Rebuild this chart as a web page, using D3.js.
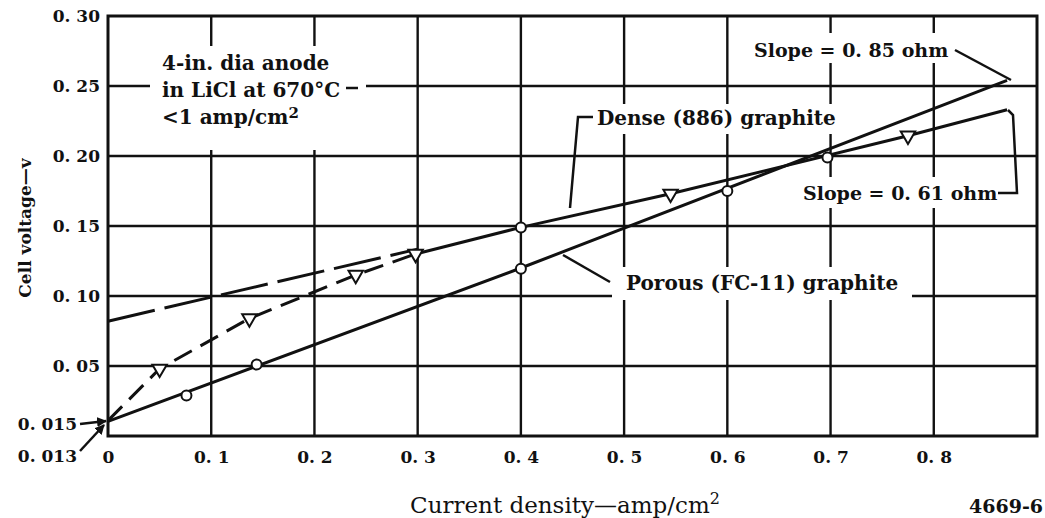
<!DOCTYPE html>
<html>
<head>
<meta charset="utf-8">
<script src="https://cdn.jsdelivr.net/npm/d3@7"></script>
<style>
  body { margin: 0; background: #fff; }
  .tick text { font-family: "DejaVu Serif", serif; font-weight: bold; fill: #111; }
  .note { font-family: "DejaVu Serif", serif; font-weight: bold; font-size: 20px; fill: #111; }
</style>
</head>
<body>
<div id="chart"></div>
<script>
// values
const xTicks = [0, 0.1, 0.2, 0.3, 0.4, 0.5, 0.6, 0.7, 0.8];
const xTickLabels = ['0', '0. 1', '0. 2', '0. 3', '0. 4', '0. 5', '0. 6', '0. 7', '0. 8'];
const yTicks = [0.05, 0.10, 0.15, 0.20, 0.25, 0.30];
const yTickLabels = ['0. 05', '0. 10', '0. 15', '0. 20', '0. 25', '0. 30'];

// porous (FC-11) graphite: fitted line and measured points
const porousLineX = [0, 0.40, 0.871];
const porousLineY = [0.0105, 0.120, 0.254];
const porousX = [0.076, 0.144, 0.40, 0.60, 0.697];
const porousY = [0.029, 0.051, 0.1195, 0.175, 0.199];

// dense (886) graphite: low-current curve, straight part, extrapolation
const denseCurveX = [0, 0.05, 0.137, 0.24, 0.298];
const denseCurveY = [0.011, 0.048, 0.084, 0.115, 0.130];
const denseLineX = [0.298, 0.40, 0.545, 0.775, 0.871];
const denseLineY = [0.130, 0.149, 0.173, 0.2145, 0.233];
const denseExtrapX = [0, 0.30];
const denseExtrapY = [0.082, 0.1335];
const denseTriX = [0.05, 0.137, 0.24, 0.298, 0.545, 0.775];
const denseTriY = [0.048, 0.084, 0.115, 0.130, 0.173, 0.2145];
const denseCircX = [0.40];
const denseCircY = [0.149];

const w = 1045, h = 518;
const pLeft = 108, pRight = 1037, pTop = 16, pBottom = 436;

const x = d3.scaleLinear().domain([0, 0.9]).range([pLeft, pRight]);
const y = d3.scaleLinear().domain([0, 0.30]).range([pBottom, pTop]);

const svg = d3.select('#chart').append('svg')
    .attr('width', w)
    .attr('height', h);

svg.append('rect').attr('width', w).attr('height', h).attr('fill', '#fff');

const ink = '#111';

// grid
svg.append('g').selectAll('line')
    .data(xTicks.slice(1))
    .enter().append('line')
    .attr('x1', d => x(d)).attr('x2', d => x(d))
    .attr('y1', pTop).attr('y2', pBottom)
    .attr('stroke', ink).attr('stroke-width', 2.4);

svg.append('g').selectAll('line')
    .data(yTicks.slice(0, -1))
    .enter().append('line')
    .attr('x1', pLeft).attr('x2', pRight)
    .attr('y1', d => y(d)).attr('y2', d => y(d))
    .attr('stroke', ink).attr('stroke-width', 2.4);

// white patches where the grid is broken by the notes
const patches = [
    [150, 46, 216, 104],
    [748, 33, 208, 30],
    [590, 104, 252, 30],
    [798, 177, 205, 31],
    [612, 267, 300, 33]
];
svg.append('g').selectAll('rect')
    .data(patches)
    .enter().append('rect')
    .attr('x', d => d[0]).attr('y', d => d[1])
    .attr('width', d => d[2]).attr('height', d => d[3])
    .attr('fill', '#fff');

// frame
svg.append('rect')
    .attr('x', pLeft).attr('y', pTop)
    .attr('width', pRight - pLeft).attr('height', pBottom - pTop)
    .attr('fill', 'none').attr('stroke', ink).attr('stroke-width', 3);

// axes
const yAxis = svg.append('g')
    .attr('transform', `translate(${pLeft},0)`)
    .call(d3.axisLeft(y).tickValues(yTicks).tickFormat((d, i) => yTickLabels[i]).tickSize(0).tickPadding(8));
yAxis.select('.domain').remove();
yAxis.selectAll('text').style('font-size', '17px');

const xAxis = svg.append('g')
    .attr('transform', `translate(0,${pBottom})`)
    .call(d3.axisBottom(x).tickValues(xTicks).tickFormat((d, i) => xTickLabels[i]).tickSize(0).tickPadding(15));
xAxis.select('.domain').remove();
xAxis.selectAll('text').style('font-size', '17px');

// lines
const zip = (a, b) => a.map((v, i) => [v, b[i]]);
const line = d3.line().x(d => x(d[0])).y(d => y(d[1]));

svg.append('path')
    .attr('d', line(zip(denseExtrapX, denseExtrapY)))
    .attr('fill', 'none').attr('stroke', ink).attr('stroke-width', 3)
    .attr('stroke-dasharray', '48,10');

svg.append('path')
    .attr('d', line(zip(denseCurveX, denseCurveY)))
    .attr('fill', 'none').attr('stroke', ink).attr('stroke-width', 3)
    .attr('stroke-dasharray', '20,10');

svg.append('path')
    .attr('d', line(zip(denseLineX, denseLineY)))
    .attr('fill', 'none').attr('stroke', ink).attr('stroke-width', 3);

svg.append('path')
    .attr('d', line(zip(porousLineX, porousLineY)))
    .attr('fill', 'none').attr('stroke', ink).attr('stroke-width', 3);

// markers
svg.append('g').selectAll('circle')
    .data(zip(porousX, porousY).concat(zip(denseCircX, denseCircY)))
    .enter().append('circle')
    .attr('cx', d => x(d[0])).attr('cy', d => y(d[1]))
    .attr('r', 5)
    .attr('fill', '#fff').attr('stroke', ink).attr('stroke-width', 2);

const tri = d3.symbol().type(d3.symbolTriangle).size(90);
svg.append('g').selectAll('path')
    .data(zip(denseTriX, denseTriY))
    .enter().append('path')
    .attr('d', tri)
    .attr('transform', d => `translate(${x(d[0])},${y(d[1])}) rotate(180)`)
    .attr('fill', '#fff').attr('stroke', ink).attr('stroke-width', 2);

// notes
const note = (tx, ty, str, anchor) => svg.append('text')
    .attr('class', 'note').attr('x', tx).attr('y', ty)
    .attr('text-anchor', anchor || 'start').text(str);

note(162, 70, '4-in. dia anode');
note(162, 97, 'in LiCl at 670°C');
const n3 = note(162, 124, '<1 amp/cm');
n3.append('tspan').attr('dy', -6).style('font-size', '15px').text('2');

note(754, 57, 'Slope = 0. 85 ohm').style('font-size', '19px');
note(597, 125, 'Dense (886) graphite');
note(803, 200, 'Slope = 0. 61 ohm').style('font-size', '19px');
note(626, 290, 'Porous (FC-11) graphite');

// leaders
const lead = pts => svg.append('path')
    .attr('d', d3.line()(pts))
    .attr('fill', 'none').attr('stroke', ink).attr('stroke-width', 2.5);

lead([[346, 88], [358, 88]]);
lead([[955, 50], [1011, 80]]);
lead([[998, 193], [1017, 193], [1013, 115], [1008, 110]]);
lead([[593, 117], [578, 117], [570, 208]]);
lead([[610, 282], [563, 255]]);

// intercept labels with arrows
svg.append('defs').append('marker')
    .attr('id', 'arr').attr('viewBox', '0 0 10 10')
    .attr('refX', 9).attr('refY', 5)
    .attr('markerWidth', 4).attr('markerHeight', 4)
    .attr('orient', 'auto')
    .append('path').attr('d', 'M0,0L10,5L0,10Z').attr('fill', ink);

note(77, 430, '0. 015', 'end').style('font-size', '17px');
note(77, 462, '0. 013', 'end').style('font-size', '17px');
svg.append('path').attr('d', d3.line()([[80, 424], [106, 421]]))
    .attr('stroke', ink).attr('stroke-width', 2.5).attr('marker-end', 'url(#arr)');
svg.append('path').attr('d', d3.line()([[80, 451], [104, 425]]))
    .attr('stroke', ink).attr('stroke-width', 2.5).attr('marker-end', 'url(#arr)');

// axis titles
svg.append('text')
    .attr('transform', 'translate(31,228) rotate(-90)')
    .attr('text-anchor', 'middle')
    .attr('class', 'note')
    .style('font-size', '17px')
    .text('Cell voltage—v');

const xt = svg.append('text')
    .attr('x', 565).attr('y', 513)
    .attr('text-anchor', 'middle')
    .style('font-family', '"DejaVu Serif", serif').style('font-size', '23px').style('fill', ink)
    .text('Current density—amp/cm');
xt.append('tspan').attr('dy', -9).style('font-size', '16px').text('2');

svg.append('text')
    .attr('x', 1043).attr('y', 513)
    .attr('text-anchor', 'end')
    .style('font-family', '"DejaVu Serif", serif').style('font-weight', 'bold').style('font-size', '19px').style('fill', ink)
    .text('4669-6');
</script>
</body>
</html>
